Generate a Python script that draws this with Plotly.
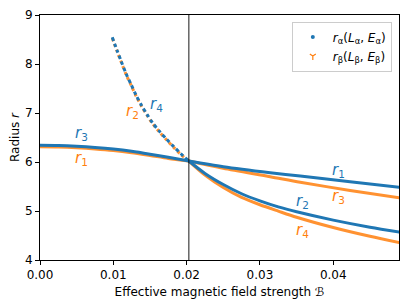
import plotly.graph_objects as go

# ---------------- data ----------------
B_cross = 0.0203

# alpha series (blue)
a_r3_B = [0.0, 0.0025, 0.005, 0.0075, 0.01, 0.0125, 0.015, 0.0175, 0.0203]
a_r3 = [6.34, 6.335, 6.32, 6.297, 6.265, 6.22, 6.16, 6.095, 6.02]

a_r4_B = [0.00986, 0.01049, 0.01104, 0.01172, 0.01246, 0.01314, 0.01387,
          0.01459, 0.01537, 0.01632, 0.01728, 0.01824, 0.01919, 0.0203]
a_r4 = [8.545, 8.286, 8.071, 7.810, 7.571, 7.353, 7.149,
        6.973, 6.796, 6.622, 6.463, 6.314, 6.173, 6.02]

a_r1_B = [0.0203, 0.025, 0.0314, 0.0355, 0.0423, 0.049]
a_r1 = [6.02, 5.904, 5.782, 5.714, 5.596, 5.484]

a_r2_B = [0.0203, 0.0225, 0.025, 0.0275, 0.03, 0.0325, 0.035, 0.04, 0.045, 0.049]
a_r2 = [6.02, 5.767, 5.54, 5.352, 5.207, 5.084, 4.984, 4.814, 4.669, 4.569]

# beta series (orange)
b_r1_B = [0.0, 0.0025, 0.005, 0.0075, 0.01, 0.0125, 0.015, 0.0175, 0.0203]
b_r1 = [6.31, 6.305, 6.29, 6.267, 6.235, 6.19, 6.133, 6.073, 6.02]

b_r2_B = [0.00986, 0.01049, 0.01104, 0.01172, 0.01246, 0.01314, 0.01387,
          0.01459, 0.01537, 0.01632, 0.01728, 0.01824, 0.01919, 0.0203]
b_r2 = [8.53, 8.27, 8.056, 7.795, 7.556, 7.338, 7.134,
        6.958, 6.781, 6.607, 6.448, 6.299, 6.158, 6.02]

b_r3_B = [0.0203, 0.025, 0.0314, 0.0355, 0.0423, 0.049]
b_r3 = [6.02, 5.871, 5.700, 5.586, 5.42, 5.269]

b_r4_B = [0.0203, 0.0225, 0.025, 0.0275, 0.03, 0.0325, 0.035, 0.04, 0.045, 0.049]
b_r4 = [6.02, 5.734, 5.48, 5.278, 5.128, 4.998, 4.873, 4.663, 4.483, 4.355]

x_ticks = [0.0, 0.01, 0.02, 0.03, 0.04]
x_tick_labels = ["0.00", "0.01", "0.02", "0.03", "0.04"]
y_ticks = [4, 5, 6, 7, 8, 9]

# labels: (text, B, r, series)
labels = [
    ("3", 0.00563, 6.59, "a"), ("1", 0.00563, 6.08, "b"),
    ("4", 0.01587, 7.18, "a"), ("2", 0.01268, 7.04, "b"),
    ("1", 0.04068, 5.82, "a"), ("3", 0.04068, 5.29, "b"),
    ("2", 0.03577, 5.19, "a"), ("4", 0.03577, 4.61, "b"),
]

BLUE = "#1f77b4"
ORANGE = "#ff7f0e"
FONT = "DejaVu Sans"

fig = go.Figure()

# orange (beta) first, blue on top
for xs, ys, dash in [(b_r1_B, b_r1, "solid"), (b_r2_B, b_r2, "3px,3px"),
                     (b_r3_B, b_r3, "solid"), (b_r4_B, b_r4, "solid")]:
    fig.add_trace(go.Scatter(x=xs, y=ys, mode="lines", showlegend=False,
                             line=dict(color=ORANGE, width=3, shape="spline",
                                       smoothing=0.8, dash=dash),
                             opacity=0.85, hoverinfo="skip"))
for xs, ys, dash in [(a_r3_B, a_r3, "solid"), (a_r4_B, a_r4, "3.5px,3px"),
                     (a_r1_B, a_r1, "solid"), (a_r2_B, a_r2, "solid")]:
    fig.add_trace(go.Scatter(x=xs, y=ys, mode="lines", showlegend=False,
                             line=dict(color=BLUE, width=3, shape="spline",
                                       smoothing=0.8, dash=dash),
                             hoverinfo="skip"))

# legend entries
fig.add_trace(go.Scatter(x=[None], y=[None], mode="markers",
                         name="<i>r</i><sub>α</sub>(<i>L</i><sub>α</sub>, <i>E</i><sub>α</sub>)",
                         marker=dict(color=BLUE, size=4, symbol="circle")))
fig.add_trace(go.Scatter(x=[None], y=[None], mode="markers",
                         name="<i>r</i><sub>β</sub>(<i>L</i><sub>β</sub>, <i>E</i><sub>β</sub>)",
                         marker=dict(color=ORANGE, size=5, symbol="y-down",
                                     line=dict(color=ORANGE, width=1.2))))

for txt, bx, ry, s in labels:
    fig.add_annotation(x=bx, y=ry, text=f"<i>r</i><sub>{txt}</sub>", showarrow=False,
                       font=dict(family=FONT, size=15, color=BLUE if s == "a" else ORANGE),
                       xanchor="center", yanchor="middle")

fig.add_shape(type="line", x0=B_cross, x1=B_cross, y0=0, y1=1, xref="x", yref="paper",
              line=dict(color="rgba(0,0,0,0.7)", width=1.3), layer="above")

axis_common = dict(showline=True, linecolor="black", linewidth=1, mirror=True,
                   ticks="outside", ticklen=4, tickwidth=1, tickcolor="black",
                   showgrid=False, zeroline=False, automargin=False,
                   tickfont=dict(family=FONT, size=12, color="black"))

# page body has an 8px default margin, so the figure is sized to fit inside it
fig.update_layout(
    width=395, height=292,
    margin=dict(l=32, r=4, t=7, b=40, autoexpand=False),
    paper_bgcolor="white", plot_bgcolor="white",
    font=dict(family=FONT, size=12, color="black"),
    xaxis=dict(range=[0, 0.04897], tickvals=x_ticks, ticktext=x_tick_labels,
               title=dict(text="Effective magnetic field strength <i>ℬ</i>",
                          font=dict(family=FONT, size=12), standoff=6),
               **axis_common),
    yaxis=dict(range=[4, 9], tickvals=y_ticks,
               title=dict(text="Radius <i>r</i>", font=dict(family=FONT, size=12), standoff=7),
               **axis_common),
    legend=dict(x=0.98, y=0.973, xanchor="right", yanchor="top",
                bgcolor="white", bordercolor="#cccccc", borderwidth=1,
                font=dict(family=FONT, size=12), itemwidth=30, tracegroupgap=0),
)

fig.write_html("out.html")
